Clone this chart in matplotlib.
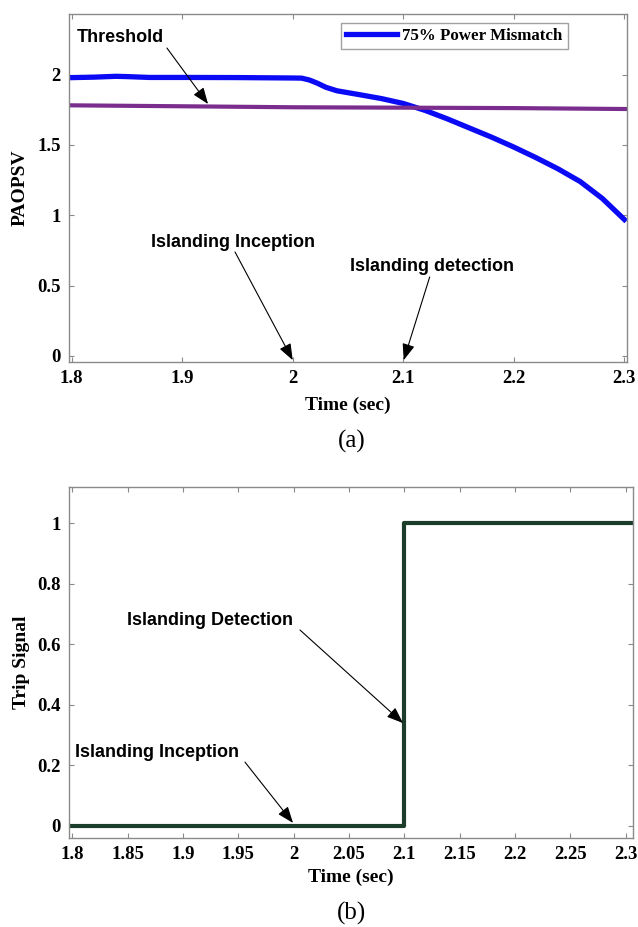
import numpy as np
import matplotlib
matplotlib.use("Agg")
import matplotlib.pyplot as plt

# ---- data ----
# (a) PAOPSV for 75% power mismatch
t_pao = [1.795, 1.82, 1.84, 1.85, 1.87, 1.9, 1.95, 2.0, 2.008, 2.015, 2.022, 2.03,
         2.04, 2.06, 2.08, 2.1, 2.12, 2.14, 2.16, 2.18, 2.2, 2.22, 2.24, 2.26, 2.28, 2.3]
pao = [1.978, 1.982, 1.988, 1.986, 1.980, 1.980, 1.979, 1.976, 1.975, 1.962, 1.94, 1.91,
       1.885, 1.858, 1.83, 1.795, 1.745, 1.685, 1.62, 1.555, 1.485, 1.41, 1.33, 1.24, 1.12, 0.97]

# threshold line
t_thr = [1.795, 1.9, 2.0, 2.1, 2.2, 2.31]
thr = [1.782, 1.775, 1.768, 1.765, 1.762, 1.755]

# (b) trip signal
t_trip = [1.79, 2.1, 2.1, 2.31]
trip = [0, 0, 1, 1]

xticks_a = [1.8, 1.9, 2.0, 2.1, 2.2, 2.3]
xlabels_a = ["1.8", "1.9", "2", "2.1", "2.2", "2.3"]
yticks_a = [0, 0.5, 1, 1.5, 2]
ylabels_a = ["0", "0.5", "1", "1.5", "2"]

xticks_b = [1.8, 1.85, 1.9, 1.95, 2.0, 2.05, 2.1, 2.15, 2.2, 2.25, 2.3]
xlabels_b = ["1.8", "1.85", "1.9", "1.95", "2", "2.05", "2.1", "2.15", "2.2", "2.25", "2.3"]
yticks_b = [0, 0.2, 0.4, 0.6, 0.8, 1]
ylabels_b = ["0", "0.2", "0.4", "0.6", "0.8", "1"]

SERIF = "Liberation Serif"
SANS = "Liberation Sans"
W, H = 638, 927


def style_axes(ax):
    # matlab-like box: grey frame, inward ticks on every side
    for s in ax.spines.values():
        s.set_color("#8a8a8a")
        s.set_linewidth(1.0)
    ax.tick_params(direction="in", top=True, right=True, length=3.5, width=0.8,
                   color="#8a8a8a", labelcolor="black", labelsize=13.5, pad=6)
    for lab in ax.get_xticklabels() + ax.get_yticklabels():
        lab.set_fontfamily(SERIF)
        lab.set_fontweight("bold")


def arrow(ax, txt, text_xy, start, tip):
    ax.text(text_xy[0], text_xy[1], txt, fontfamily=SANS, fontweight="bold",
            fontsize=13, ha="left", va="center")
    ax.annotate("", xy=tip, xytext=start,
                arrowprops=dict(arrowstyle="-|>,head_length=1.0,head_width=0.38",
                                color="black", lw=0.8, shrinkA=0, shrinkB=0))


def main():
    fig = plt.figure(figsize=(W / 100, H / 100), dpi=100)

    # ---------- (a) ----------
    ax1 = fig.add_axes([69 / W, 1 - 362 / H, 558 / W, 348 / H])
    ax1.plot(t_pao, pao, color="#0a0af5", lw=3.8, label="75% Power Mismatch")
    ax1.plot(t_thr, thr, color="#7b2d8e", lw=3.0)
    ax1.set_xlim(1.7976, 2.3024)
    ax1.set_ylim(-0.043, 2.431)
    ax1.set_xticks(xticks_a)
    ax1.set_xticklabels(xlabels_a)
    ax1.set_yticks(yticks_a)
    ax1.set_yticklabels(ylabels_a)
    style_axes(ax1)
    ax1.set_ylabel("PAOPSV", fontfamily=SERIF, fontweight="bold", fontsize=14)
    ax1.yaxis.set_label_coords(-0.072, 0.5)
    ax1.set_xlabel("Time (sec)", fontfamily=SERIF, fontweight="bold", fontsize=14)
    ax1.xaxis.set_label_coords(0.5, -0.100)

    leg = ax1.legend(loc="upper right", bbox_to_anchor=(0.894, 0.974), borderaxespad=0,
                     fancybox=False, handlelength=3.0, handletextpad=0.3,
                     borderpad=0.3, prop=dict(family=SERIF, weight="bold", size=12.2))
    leg.get_frame().set_edgecolor("#8a8a8a")
    leg.get_frame().set_linewidth(1.0)

    arrow(ax1, "Threshold", (1.8048, 2.267), (1.8862, 2.189), (1.9234, 1.791))
    arrow(ax1, "Islanding Inception", (1.8717, 0.810), (1.9478, 0.739), (2.0, -0.03))
    arrow(ax1, "Islanding detection", (2.0516, 0.633), (2.1239, 0.5615), (2.1004, -0.03))

    fig.text(352 / W, 1 - 441 / H, "(a)", fontfamily=SERIF, fontsize=18,
             ha="center", va="center")

    # ---------- (b) ----------
    ax2 = fig.add_axes([69 / W, 1 - 837.7 / H, 563.7 / W, 350.4 / H])
    ax2.plot(t_trip, trip, color="#1b3d2a", lw=3.0)
    ax2.set_xlim(1.797, 2.3063)
    ax2.set_ylim(-0.0387, 1.119)
    ax2.set_xticks(xticks_b)
    ax2.set_xticklabels(xlabels_b)
    ax2.set_yticks(yticks_b)
    ax2.set_yticklabels(ylabels_b)
    style_axes(ax2)
    ax2.set_ylabel("Trip Signal", fontfamily=SERIF, fontweight="bold", fontsize=14)
    ax2.yaxis.set_label_coords(-0.070, 0.5)
    ax2.set_xlabel("Time (sec)", fontfamily=SERIF, fontweight="bold", fontsize=14)
    ax2.xaxis.set_label_coords(0.5, -0.089)

    arrow(ax2, "Islanding Detection", (1.8494, 0.6805), (2.0057, 0.6475), (2.0988, 0.340))
    arrow(ax2, "Islanding Inception", (1.8024, 0.242), (1.956, 0.211), (1.9994, 0.01))

    fig.text(352 / W, 1 - 913 / H, "(b)", fontfamily=SERIF, fontsize=18,
             ha="center", va="center")

    fig.savefig("out.png", dpi=100)


if __name__ == "__main__":
    main()
